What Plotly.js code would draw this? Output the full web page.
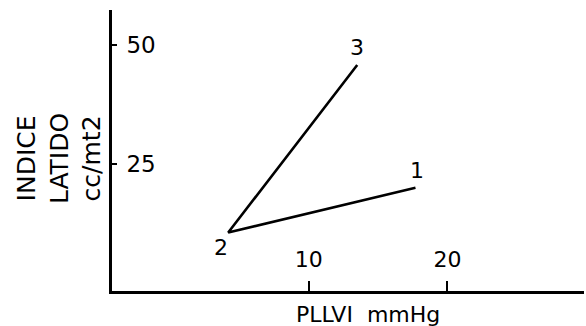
<!DOCTYPE html>
<html>
<head>
<meta charset="utf-8">
<script src="https://cdn.plot.ly/plotly-3.0.1.min.js"></script>
<style>html,body{margin:0;padding:0;background:#fff}#chart{width:586px;height:326px}</style>
</head>
<body>
<div id="chart"></div>
<script>
// Data
const pointLabels = ['3', '2', '1'];
const pllvi = [13.5, 4.2, 17.7];      // mmHg
const indice = [45.8, 10.6, 20.0];    // cc/mt2
const xTickVals = [10, 20];
const xTickText = ['10', '20'];
const yTickVals = [25, 50];
const yTickText = ['25', '50'];
const xTitle = 'PLLVI  mmHg';
const yTitle = 'INDICE<br>LATIDO<br>cc/mt2';

const FONT = 'DejaVu Sans, Liberation Sans, Arial, sans-serif';
const labelShift = [[0, 17], [-7, -15], [2, 17]];

const traces = [
  {
    x: pllvi, y: indice, type: 'scatter', mode: 'lines',
    line: {color: '#000', width: 2.6}, hoverinfo: 'skip', showlegend: false
  }
];

const annotations = pointLabels.map((t, i) => ({
  text: t, x: pllvi[i], y: indice[i], xref: 'x', yref: 'y',
  showarrow: false, xanchor: 'center', yanchor: 'middle',
  xshift: labelShift[i][0], yshift: labelShift[i][1],
  font: {family: FONT, size: 22, color: '#000'}
}));

annotations.push(
  {
    text: xTitle, xref: 'x', yref: 'paper', x: 14.3, y: -0.082,
    xanchor: 'center', yanchor: 'middle', showarrow: false,
    font: {family: FONT, size: 22, color: '#000'}
  },
  {
    text: yTitle, xref: 'paper', yref: 'paper', x: -0.112, y: 0.47,
    xanchor: 'center', yanchor: 'middle', textangle: -90, showarrow: false,
    font: {family: FONT, size: 25, color: '#000'}
  }
);

const layout = {
  width: 586, height: 326,
  margin: {l: 112, r: 2, t: 10, b: 35},
  paper_bgcolor: '#fff', plot_bgcolor: '#fff',
  showlegend: false,
  font: {family: FONT, color: '#000'},
  xaxis: {
    range: [-4.18, 29.85],
    showgrid: false, zeroline: false,
    showline: true, linecolor: '#000', linewidth: 2.5,
    ticks: 'inside', ticklen: 10, tickwidth: 2, tickcolor: '#000',
    tickvals: xTickVals, ticktext: xTickText,
    ticklabelposition: 'inside', ticklabelstandoff: 11,
    tickfont: {family: FONT, size: 22, color: '#000'}
  },
  yaxis: {
    range: [-1.68, 57.35],
    showgrid: false, zeroline: false,
    showline: true, linecolor: '#000', linewidth: 3,
    ticks: 'inside', ticklen: 5, tickwidth: 2, tickcolor: '#000',
    tickvals: yTickVals, ticktext: yTickText,
    ticklabelposition: 'inside', ticklabelstandoff: 11,
    tickfont: {family: FONT, size: 23, color: '#000'}
  },
  annotations: annotations
};

Plotly.newPlot('chart', traces, layout, {displayModeBar: false, staticPlot: true});
</script>
</body>
</html>
